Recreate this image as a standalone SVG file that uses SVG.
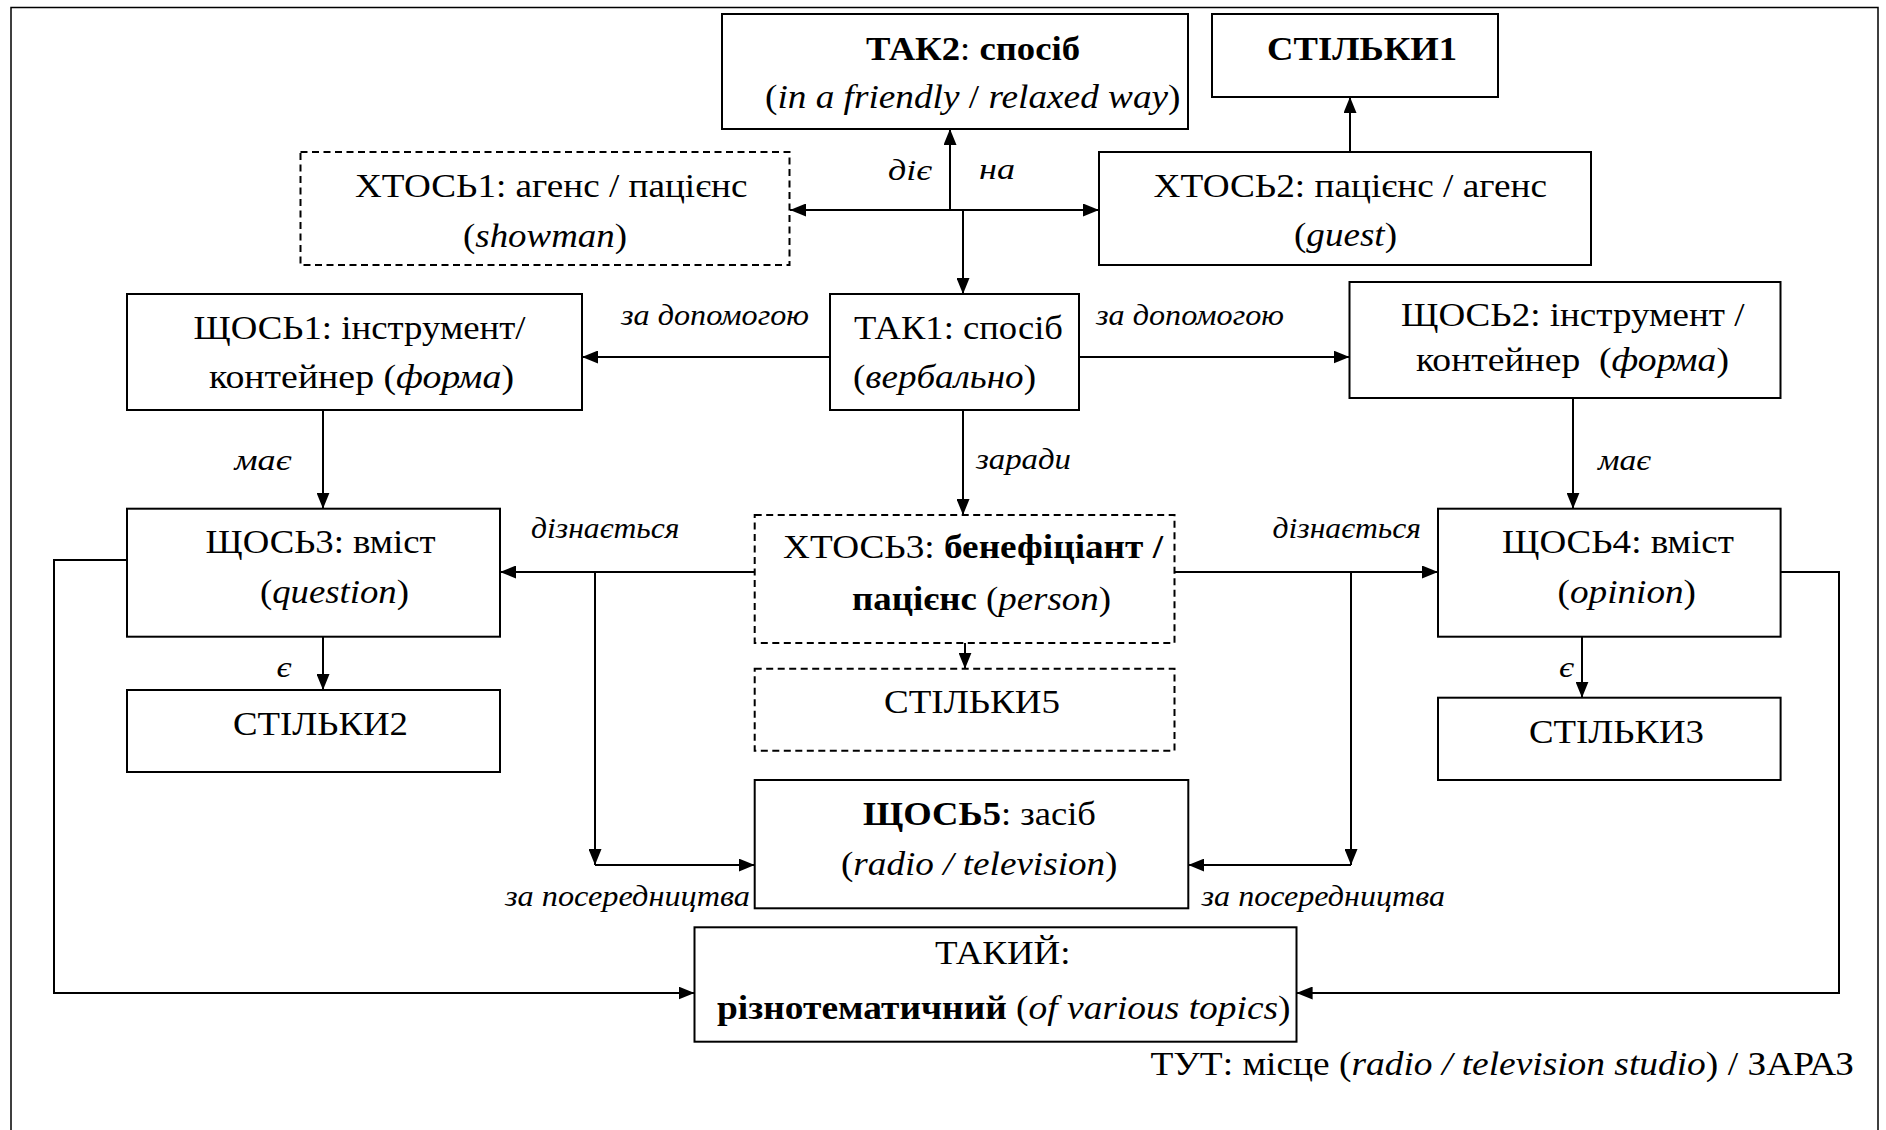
<svg xmlns="http://www.w3.org/2000/svg" width="1886" height="1130" viewBox="0 0 1886 1130">
  <defs>
    <style>
      .box { fill: #ffffff; stroke: #000000; stroke-width: 2; }
      .dash { stroke-dasharray: 7 4.5; }
      .wire { fill: none; stroke: #000000; stroke-width: 2; }
      .frame { fill: none; stroke: #000000; stroke-width: 1.5; }
      .t, .lbl { font-family: "Liberation Serif", "Times New Roman", serif; fill: #000000; }
      .t { font-size: 34px; }
      .lbl { font-size: 30px; font-style: italic; }
      .b { font-weight: bold; }
      .i { font-style: italic; }
    </style>
    <marker id="arr" markerUnits="userSpaceOnUse" markerWidth="16" markerHeight="13" refX="16" refY="6.5" orient="auto-start-reverse">
      <path d="M0,0 L16,6.5 L0,13 Z" fill="#000000"/>
    </marker>
  </defs>

  <rect width="1886" height="1130" fill="#ffffff"/>
  <path class="frame" d="M11,1131 V7.5 H1878 V1131"/>

  <!-- connectors and their labels -->
  <g id="connectors">
    <line class="wire" x1="950" y1="210" x2="950" y2="129" marker-end="url(#arr)"/>
    <line class="wire" x1="790" y1="210" x2="1099" y2="210" marker-start="url(#arr)" marker-end="url(#arr)"/>
    <line class="wire" x1="963" y1="210" x2="963" y2="294" marker-end="url(#arr)"/>
    <line class="wire" x1="1350" y1="152" x2="1350" y2="97" marker-end="url(#arr)"/>
    <line class="wire" x1="830" y1="357" x2="582" y2="357" marker-end="url(#arr)"/>
    <line class="wire" x1="1079" y1="357" x2="1349.5" y2="357" marker-end="url(#arr)"/>
    <line class="wire" x1="323" y1="410" x2="323" y2="508.7" marker-end="url(#arr)"/>
    <line class="wire" x1="1573" y1="398" x2="1573" y2="508.7" marker-end="url(#arr)"/>
    <line class="wire" x1="963" y1="410" x2="963" y2="515" marker-end="url(#arr)"/>
    <line class="wire" x1="754.7" y1="572" x2="500" y2="572" marker-end="url(#arr)"/>
    <line class="wire" x1="595" y1="572" x2="595" y2="865" marker-end="url(#arr)"/>
    <line class="wire" x1="595" y1="865" x2="754.7" y2="865" marker-end="url(#arr)"/>
    <line class="wire" x1="1174.5" y1="572" x2="1438" y2="572" marker-end="url(#arr)"/>
    <line class="wire" x1="1351" y1="572" x2="1351" y2="865" marker-end="url(#arr)"/>
    <line class="wire" x1="1351" y1="865" x2="1188.3" y2="865" marker-end="url(#arr)"/>
    <line class="wire" x1="965" y1="643" x2="965" y2="668.7" marker-end="url(#arr)"/>
    <line class="wire" x1="323" y1="636.7" x2="323" y2="690" marker-end="url(#arr)"/>
    <line class="wire" x1="1582" y1="636.7" x2="1582" y2="697.7" marker-end="url(#arr)"/>
    <polyline class="wire" points="127,560 54,560 54,993 694.5,993" marker-end="url(#arr)"/>
    <polyline class="wire" points="1780.6,572 1839,572 1839,993 1296.6,993" marker-end="url(#arr)"/>

    <text class="lbl" x="888" y="180" textLength="44" lengthAdjust="spacingAndGlyphs">діє</text>
    <text class="lbl" x="979" y="179" textLength="36" lengthAdjust="spacingAndGlyphs">на</text>
    <text class="lbl" x="621" y="325" textLength="188" lengthAdjust="spacingAndGlyphs">за допомогою</text>
    <text class="lbl" x="1096" y="325" textLength="188" lengthAdjust="spacingAndGlyphs">за допомогою</text>
    <text class="lbl" x="234.5" y="470" textLength="57" lengthAdjust="spacingAndGlyphs">має</text>
    <text class="lbl" x="1598" y="470" textLength="53" lengthAdjust="spacingAndGlyphs">має</text>
    <text class="lbl" x="976" y="469" textLength="95" lengthAdjust="spacingAndGlyphs">заради</text>
    <text class="lbl" x="531" y="538" textLength="148.5" lengthAdjust="spacingAndGlyphs">дізнається</text>
    <text class="lbl" x="1272.5" y="538" textLength="148.5" lengthAdjust="spacingAndGlyphs">дізнається</text>
    <text class="lbl" x="276.6" y="677" textLength="15" lengthAdjust="spacingAndGlyphs">є</text>
    <text class="lbl" x="1559" y="677" textLength="15" lengthAdjust="spacingAndGlyphs">є</text>
    <text class="lbl" x="505" y="906" textLength="245" lengthAdjust="spacingAndGlyphs">за посередництва</text>
    <text class="lbl" x="1201.6" y="906" textLength="243.4" lengthAdjust="spacingAndGlyphs">за посередництва</text>
  </g>

  <g id="tak2">
    <rect class="box" x="722" y="14" width="466" height="115"/>
    <text class="t" x="866" y="60" textLength="214" lengthAdjust="spacingAndGlyphs"><tspan class="b">ТАК2</tspan>: <tspan class="b">спосіб</tspan></text>
    <text class="t" x="765" y="108" textLength="415.5" lengthAdjust="spacingAndGlyphs">(<tspan class="i">in a friendly</tspan> / <tspan class="i">relaxed way</tspan>)</text>
  </g>

  <g id="stilky1">
    <rect class="box" x="1212" y="14" width="286" height="83"/>
    <text class="t b" x="1267" y="60" textLength="190" lengthAdjust="spacingAndGlyphs">СТІЛЬКИ1</text>
  </g>

  <g id="khtos1">
    <rect class="box dash" x="300.5" y="152" width="489" height="113"/>
    <text class="t" x="355" y="197" textLength="392.5" lengthAdjust="spacingAndGlyphs">ХТОСЬ1: агенс / пацієнс</text>
    <text class="t" x="463" y="247" textLength="164" lengthAdjust="spacingAndGlyphs">(<tspan class="i">showman</tspan>)</text>
  </g>

  <g id="khtos2">
    <rect class="box" x="1099" y="152" width="492" height="113"/>
    <text class="t" x="1153.5" y="197" textLength="393.5" lengthAdjust="spacingAndGlyphs">ХТОСЬ2: пацієнс / агенс</text>
    <text class="t" x="1294" y="246" textLength="103" lengthAdjust="spacingAndGlyphs">(<tspan class="i">guest</tspan>)</text>
  </g>

  <g id="tak1">
    <rect class="box" x="830" y="294" width="249" height="116"/>
    <text class="t" x="854" y="339" textLength="209" lengthAdjust="spacingAndGlyphs">ТАК1: спосіб</text>
    <text class="t" x="853" y="388" textLength="183" lengthAdjust="spacingAndGlyphs">(<tspan class="i">вербально</tspan>)</text>
  </g>

  <g id="shchos1">
    <rect class="box" x="127" y="294" width="455" height="116"/>
    <text class="t" x="193.6" y="339" textLength="332" lengthAdjust="spacingAndGlyphs">ЩОСЬ1: інструмент/</text>
    <text class="t" x="209" y="388" textLength="305" lengthAdjust="spacingAndGlyphs">контейнер (<tspan class="i">форма</tspan>)</text>
  </g>

  <g id="shchos2">
    <rect class="box" x="1349.5" y="282" width="431" height="116"/>
    <text class="t" x="1401" y="326" textLength="343.6" lengthAdjust="spacingAndGlyphs">ЩОСЬ2: інструмент /</text>
    <text class="t" x="1416" y="371" textLength="313" lengthAdjust="spacingAndGlyphs">контейнер&#160; (<tspan class="i">форма</tspan>)</text>
  </g>

  <g id="shchos3">
    <rect class="box" x="127" y="508.7" width="373" height="128"/>
    <text class="t" x="205.6" y="553" textLength="230" lengthAdjust="spacingAndGlyphs">ЩОСЬ3: вміст</text>
    <text class="t" x="260" y="603" textLength="149" lengthAdjust="spacingAndGlyphs">(<tspan class="i">question</tspan>)</text>
  </g>

  <g id="shchos4">
    <rect class="box" x="1438" y="508.7" width="342.6" height="128"/>
    <text class="t" x="1502" y="553" textLength="232" lengthAdjust="spacingAndGlyphs">ЩОСЬ4: вміст</text>
    <text class="t" x="1557.6" y="603" textLength="138.4" lengthAdjust="spacingAndGlyphs">(<tspan class="i">opinion</tspan>)</text>
  </g>

  <g id="khtos3">
    <rect class="box dash" x="754.7" y="515" width="419.8" height="128"/>
    <text class="t" x="783" y="558" textLength="380" lengthAdjust="spacingAndGlyphs">ХТОСЬ3: <tspan class="b">бенефіціант /</tspan></text>
    <text class="t" x="852" y="610" textLength="259" lengthAdjust="spacingAndGlyphs"><tspan class="b">пацієнс</tspan> (<tspan class="i">person</tspan>)</text>
  </g>

  <g id="stilky2">
    <rect class="box" x="127" y="690" width="373" height="82"/>
    <text class="t" x="233" y="735" textLength="175" lengthAdjust="spacingAndGlyphs">СТІЛЬКИ2</text>
  </g>

  <g id="stilky5">
    <rect class="box dash" x="754.7" y="668.7" width="419.8" height="82"/>
    <text class="t" x="884" y="713" textLength="176" lengthAdjust="spacingAndGlyphs">СТІЛЬКИ5</text>
  </g>

  <g id="stilky3">
    <rect class="box" x="1438" y="697.7" width="342.6" height="82.3"/>
    <text class="t" x="1529" y="743" textLength="175" lengthAdjust="spacingAndGlyphs">СТІЛЬКИ3</text>
  </g>

  <g id="shchos5">
    <rect class="box" x="754.7" y="780" width="433.6" height="128.3"/>
    <text class="t" x="863" y="825" textLength="233" lengthAdjust="spacingAndGlyphs"><tspan class="b">ЩОСЬ5</tspan>: засіб</text>
    <text class="t" x="841" y="875" textLength="276.5" lengthAdjust="spacingAndGlyphs">(<tspan class="i">radio / television</tspan>)</text>
  </g>

  <g id="takyi">
    <rect class="box" x="694.5" y="927.3" width="602" height="114.4"/>
    <text class="t" x="935" y="964" textLength="135.5" lengthAdjust="spacingAndGlyphs">ТАКИЙ:</text>
    <text class="t" x="717" y="1019" textLength="573.6" lengthAdjust="spacingAndGlyphs"><tspan class="b">різнотематичний</tspan> (<tspan class="i">of various topics</tspan>)</text>
  </g>

  <g id="tut">
    <text class="t" x="1150.5" y="1075" textLength="703.5" lengthAdjust="spacingAndGlyphs">ТУТ: місце (<tspan class="i">radio / television studio</tspan>) / ЗАРАЗ</text>
  </g>
</svg>
